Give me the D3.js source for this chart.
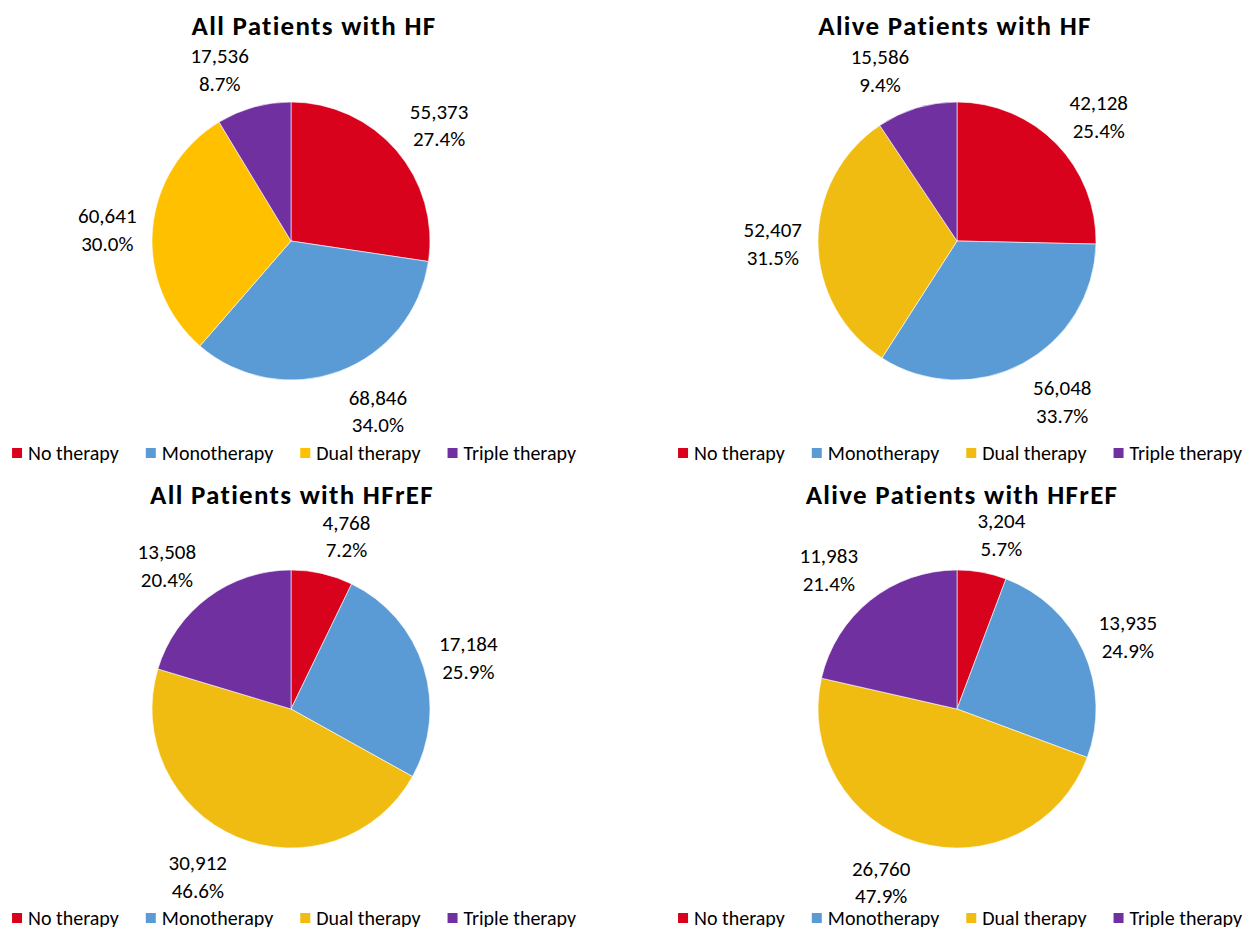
<!DOCTYPE html>
<html>
<head>
<meta charset="utf-8">
<script src="https://cdn.jsdelivr.net/npm/d3@7"></script>
<style>
    body { margin: 0; background: #fff; }
    text { font-family: Carlito, Lato, "Open Sans", sans-serif; fill: #000; }
</style>
</head>
<body>
<div id="chartContainer"></div>
<script>
let categories = ["No therapy", "Monotherapy", "Dual therapy", "Triple therapy"];
let titles = ["All Patients with HF", "Alive Patients with HF", "All Patients with HFrEF", "Alive Patients with HFrEF"];

let allHF = [55373, 68846, 60641, 17536];
let aliveHF = [42128, 56048, 52407, 15586];
let allHFrEF = [4768, 17184, 30912, 13508];
let aliveHFrEF = [3204, 13935, 26760, 11983];

let colors = ["#d9021c", "#5b9bd5", "#f0bc12", "#7030a0"];
let firstPanelColors = ["#d9021c", "#5b9bd5", "#ffc000", "#7030a0"];

let width = 1245, height = 927;

let svg = d3.select("#chartContainer").append("svg")
    .attr("width", width)
    .attr("height", height);

svg.append("rect").attr("width", width).attr("height", height).attr("fill", "#fff");

let panels = [
    {values: allHF, title: titles[0], cx: 291, cy: 241, titleX: 314, titleY: 35, legendY: 460, colors: firstPanelColors},
    {values: aliveHF, title: titles[1], cx: 957, cy: 241, titleX: 955, titleY: 35, legendY: 460, colors: colors},
    {values: allHFrEF, title: titles[2], cx: 291, cy: 709, titleX: 292, titleY: 504, legendY: 925, colors: colors},
    {values: aliveHFrEF, title: titles[3], cx: 957, cy: 709, titleX: 962, titleY: 504, legendY: 925, colors: colors}
];

let radius = 139;
let numFormat = d3.format(",");
let pctFormat = d3.format(".1%");

// Excel-like outside-end label placement: box is pushed off an anchor point
// just outside the rim, sideways almost fully, vertically only gradually
function shiftX(d, w) {
    let k = Math.min(1, Math.abs(d) * 3.3);
    return Math.sign(d) * k * (w / 2 + 6);
}

function shiftY(d, h) {
    let k = Math.max(0, Math.min(1, (Math.abs(d) - 0.08) * 1.2));
    return Math.sign(d) * k * (h / 2 + 1);
}

function drawPanel(p) {
    let g = svg.append("g").attr("transform", "translate(" + p.cx + "," + p.cy + ")");
    let total = d3.sum(p.values);
    let color = d3.scaleOrdinal().domain(categories).range(p.colors);

    let pie = d3.pie().sort(null).value((d) => d.value);
    let arcs = pie(categories.map((c, i) => ({category: c, value: p.values[i]})));
    let arc = d3.arc().innerRadius(0).outerRadius(radius);

    g.selectAll(".slice")
        .data(arcs)
        .enter().append("path")
        .attr("class", "slice")
        .attr("d", arc)
        .attr("fill", (d) => color(d.data.category))
        .attr("stroke", "#fff")
        .attr("stroke-width", 0.6);

    let labels = g.selectAll(".label")
        .data(arcs)
        .enter().append("g")
        .attr("class", "label");

    labels.append("text")
        .attr("text-anchor", "middle")
        .style("font-size", "21px")
        .attr("dy", "-0.25em")
        .text((d) => numFormat(d.data.value));

    labels.append("text")
        .attr("text-anchor", "middle")
        .style("font-size", "21px")
        .attr("dy", "1.08em")
        .text((d) => pctFormat(d.data.value / total));

    labels.attr("transform", function (d) {
        let w = d3.max(d3.select(this).selectAll("text").nodes(), (n) => n.getComputedTextLength());
        let h = 56;
        let a = (d.startAngle + d.endAngle) / 2;
        let dx = Math.sin(a), dy = -Math.cos(a);
        let x = dx * (radius + 10) + shiftX(dx, w);
        let y = dy * (radius + 10) + shiftY(dy, h);
        return "translate(" + x + "," + y + ")";
    });

    svg.append("text")
        .attr("x", p.titleX)
        .attr("y", p.titleY)
        .attr("text-anchor", "middle")
        .style("font-size", "27px")
        .style("font-weight", "bold")
        .style("letter-spacing", "1.3px")
        .text(p.title);

    let legend = svg.append("g");
    let items = legend.selectAll(".item")
        .data(categories)
        .enter().append("g")
        .attr("class", "item");

    items.append("rect")
        .attr("y", -12)
        .attr("width", 10)
        .attr("height", 10)
        .attr("fill", (d) => color(d));

    items.append("text")
        .attr("x", 16)
        .style("font-size", "20px")
        .text((d) => d);

    let x = 0;
    items.each(function () {
        let tw = d3.select(this).select("text").node().getComputedTextLength();
        d3.select(this).attr("transform", "translate(" + x + ",0)");
        x += 16 + tw + 27;
    });
    let legendWidth = x - 27;
    legend.attr("transform", "translate(" + (p.cx + 3 - legendWidth / 2) + "," + p.legendY + ")");
}

panels.forEach(drawPanel);
</script>
</body>
</html>
